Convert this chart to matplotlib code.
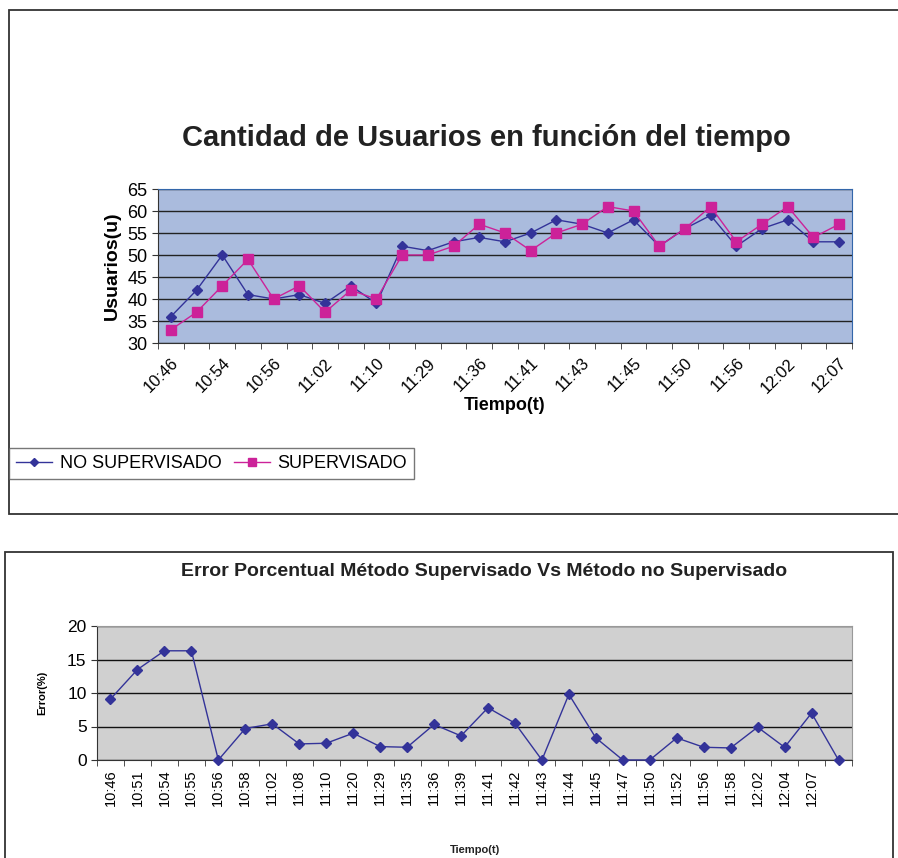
import matplotlib
matplotlib.use('Agg')
import matplotlib.pyplot as plt
from matplotlib.patches import Rectangle

plt.rcParams['font.family'] = ['Liberation Sans', 'DejaVu Sans']

# datos
tiempos = ['10:46', '10:51', '10:54', '10:55', '10:56', '10:58', '11:02', '11:08', '11:10',
           '11:20', '11:29', '11:35', '11:36', '11:39', '11:41', '11:42', '11:43', '11:44',
           '11:45', '11:47', '11:50', '11:52', '11:56', '11:58', '12:02', '12:04', '12:07']
no_supervisado = [36, 42, 50, 41, 40, 41, 39, 43, 39, 52, 51, 53, 54, 53, 55, 58, 57, 55,
                  58, 52, 56, 59, 52, 56, 58, 53, 53]
supervisado = [33, 37, 43, 49, 40, 43, 37, 42, 40, 50, 50, 52, 57, 55, 51, 55, 57, 61,
               60, 52, 56, 61, 53, 57, 61, 54, 57]
error_pct = [9.1, 13.5, 16.3, 16.3, 0.0, 4.7, 5.4, 2.4, 2.5, 4.0, 2.0, 1.9, 5.3, 3.6, 7.8,
             5.5, 0.0, 9.8, 3.3, 0.0, 0.0, 3.3, 1.9, 1.8, 4.9, 1.9, 7.0, 0.0]
etiquetas_error = tiempos + ['']

W, H = 898, 858
fig = plt.figure(figsize=(W / 100, H / 100), dpi=100)


def px(x0, y0, x1, y1):
    # pixeles (desde arriba) -> coordenadas de figura
    return [x0 / W, 1 - y1 / H, (x1 - x0) / W, (y1 - y0) / H]


def marco(x0, y0, x1, y1):
    r = px(x0, y0, x1, y1)
    fig.patches.append(Rectangle((r[0], r[1]), r[2], r[3], transform=fig.transFigure,
                                 fill=False, edgecolor='#333333', lw=1.3))


marco(9, 10, 899, 514)
marco(5, 552, 893, 870)

azul = '#333399'
rosa = '#CC2299'

# ---------------- grafica de arriba ----------------
ax1 = fig.add_axes(px(158, 189, 852, 343))
ax1.set_facecolor('#AABBDD')
n1 = len(tiempos)
x1 = list(range(n1))
ax1.plot(x1, no_supervisado, color=azul, lw=1, marker='D', ms=5, label='NO SUPERVISADO', zorder=3)
ax1.plot(x1, supervisado, color=rosa, lw=1, marker='s', ms=7, label='SUPERVISADO', zorder=3)
ax1.set_xlim(-0.5, n1 - 0.5)
ax1.set_ylim(30, 65)
ax1.set_yticks(range(30, 66, 5))
ax1.yaxis.grid(True, color='#222222', lw=1)
ax1.set_axisbelow(True)
ax1.set_xticks(x1[::2])
ax1.set_xticklabels(tiempos[::2], rotation=45, ha='right', rotation_mode='anchor', fontsize=12)
ax1.set_xticks([i - 0.5 for i in range(n1 + 1)], minor=True)
ax1.tick_params(axis='x', which='major', length=0, pad=9)
ax1.tick_params(axis='x', which='minor', length=4, color='#333333')
ax1.tick_params(axis='y', length=4, labelsize=13, color='#333333')
for s in ['top', 'right']:
    ax1.spines[s].set_color('#3366AA')
ax1.spines['left'].set_color('#333333')
ax1.spines['bottom'].set_color('#333333')
ax1.set_ylabel('Usuarios(u)', fontsize=14, fontweight='bold', labelpad=5)
ax1.set_xlabel('Tiempo(t)', fontsize=13, fontweight='bold', labelpad=1)
fig.text(486 / W, 1 - 138 / H, 'Cantidad de Usuarios en función del tiempo',
         ha='center', va='center', fontsize=21, fontweight='bold', color='#222222')

h, l = ax1.get_legend_handles_labels()
leg = fig.legend(h, l, loc='upper left', bbox_to_anchor=(9 / W, 1 - 448 / H), ncol=2,
                 fontsize=13, frameon=True, fancybox=False, edgecolor='#555555',
                 borderaxespad=0, handlelength=2.0, columnspacing=0.7, handletextpad=0.4,
                 borderpad=0.4, markerscale=0.8)
leg.get_frame().set_linewidth(1)

# ---------------- grafica de abajo ----------------
ax2 = fig.add_axes(px(97, 626, 852, 760))
ax2.set_facecolor('#D0D0D0')
n2 = len(error_pct)
x2 = list(range(n2))
ax2.plot(x2, error_pct, color=azul, lw=1, marker='D', ms=5, zorder=3, clip_on=False)
ax2.set_xlim(-0.5, n2 - 0.5)
ax2.set_ylim(0, 20)
ax2.set_yticks(range(0, 21, 5))
ax2.yaxis.grid(True, color='#111111', lw=1)
ax2.set_axisbelow(True)
ax2.set_xticks(x2)
ax2.set_xticklabels(etiquetas_error, rotation=90, fontsize=10.5)
ax2.set_xticks([i - 0.5 for i in range(n2 + 1)], minor=True)
ax2.tick_params(axis='x', which='major', length=0, pad=7)
ax2.tick_params(axis='x', which='minor', length=4, color='#333333')
ax2.tick_params(axis='y', length=4, labelsize=12.5, color='#333333')
for s in ['top', 'right']:
    ax2.spines[s].set_color('#999999')
ax2.spines['left'].set_color('#333333')
ax2.spines['bottom'].set_color('#333333')
ax2.set_ylabel('Error(%)', fontsize=8, fontweight='bold', labelpad=14)
fig.text(484 / W, 1 - 571 / H, 'Error Porcentual Método Supervisado Vs Método no Supervisado',
         ha='center', va='center', fontsize=14, fontweight='bold', color='#222222')
fig.text(475 / W, 1 - 850 / H, 'Tiempo(t)', ha='center', va='center', fontsize=8,
         fontweight='bold', color='#222222')

fig.savefig('out.png', dpi=100)
